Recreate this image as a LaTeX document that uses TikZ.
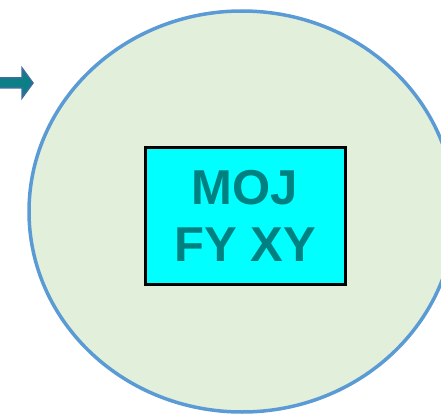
\documentclass[tikz,border=0pt]{standalone}
\usetikzlibrary{shapes.geometric}
\usepackage{fontspec}
\setmainfont{Liberation Sans}
\definecolor{ringblue}{HTML}{5B9BD5}
\definecolor{ringfill}{HTML}{E2EFDA}
\definecolor{tealtext}{HTML}{008080}
\definecolor{boxcyan}{HTML}{00FFFF}
\definecolor{arrowfill}{HTML}{0A7F86}
\definecolor{arrowline}{HTML}{3D6C9E}
\tikzset{
  ring/.style={ellipse, draw=ringblue, line width=3.5pt, fill=ringfill, inner sep=0pt, outer sep=0pt},
  box/.style={draw=black, line width=3pt, fill=boxcyan, minimum width=200pt, minimum height=137pt, inner sep=0pt,
    font=\fontsize{49}{57}\selectfont\bfseries, text=tealtext, align=center},
  blockarrow/.style={fill=arrowfill, draw=arrowline, line width=1.5pt, line join=miter}
}
\begin{document}
\begin{tikzpicture}[x=1pt,y=-1pt]
\useasboundingbox (0,0) rectangle (441,417);
\clip (0,0) rectangle (441,417);
\node[ring, minimum width=426pt, minimum height=401pt] (ring) at (242,211.5) {};
\node[box] (core) at (245,216) {MOJ\\FY XY};
\coordinate (arrowstart) at (-2,78);
\path[blockarrow] (arrowstart) -- (22,78) -- (22,68) -- (33,83) -- (22,98) -- (22,88) -- (-2,88) -- cycle;
\end{tikzpicture}
\end{document}
